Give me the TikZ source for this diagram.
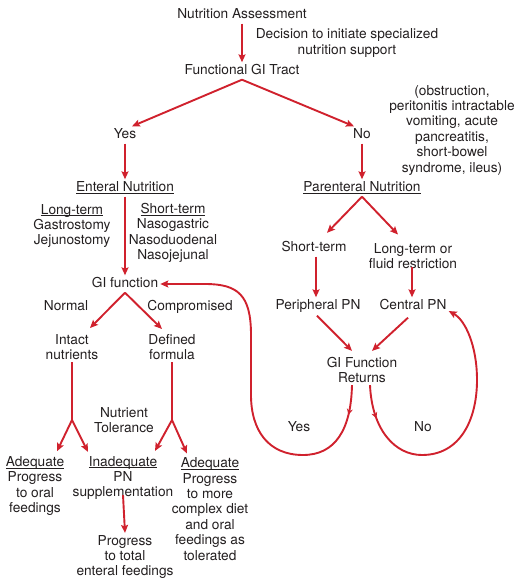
\documentclass[tikz,border=0pt]{standalone}
\usepackage{fontspec}
\setmainfont{TeX Gyre Heros}
\usetikzlibrary{arrows.meta,decorations.markings}
\definecolor{flowred}{RGB}{208,33,45}
\definecolor{ink}{RGB}{35,31,32}
% underline drawn as a thin rule that does not add to the line depth
\newcommand\ulword[1]{\setbox0=\hbox{#1}\rlap{\rule[-2pt]{\wd0}{0.7pt}}\box0}
\begin{document}
\begin{tikzpicture}[x=1pt,y=-1pt,
  lbl/.style={font=\fontsize{13.7}{15.4}\selectfont, text=ink, inner sep=2pt, align=center},
  one/.style={lbl, text height=10pt, text depth=3pt},
  link/.style={draw=flowred, line width=1.9pt, -{Stealth[length=8pt,width=7pt,inset=1.5pt]}},
  seg/.style={draw=flowred, line width=1.9pt},
  loopline/.style={draw=flowred, line width=1.9pt, -{Stealth[length=8pt,width=7pt,inset=1.5pt]},
    postaction={decorate, decoration={markings,
      mark=at position #1 with {\arrow{Stealth[length=6pt,width=6pt,inset=2pt,fill=flowred]}}}}},
]
\useasboundingbox (0,0) rectangle (517,579);

% ---- top of the chart
\node[one] (na)  at (242,15) {Nutrition Assessment};
\node[lbl] (dec) at (347,43) {Decision to initiate specialized\\nutrition support};
\node[one] (fgi) at (242,71) {Functional GI Tract};
\node[one] (yes1) at (125,135) {Yes};
\node[one] (no1)  at (362,135) {No};
\node[lbl] (obs) at (452,130) {(obstruction,\\peritonitis intractable\\vomiting, acute\\pancreatitis,\\short-bowel\\syndrome, ileus)};

% ---- enteral branch
\node[one] (en) at (125,188) {\ulword{Enteral Nutrition}};
\node[lbl] (lt) at (72,226) {\ulword{Long-term}\\Gastrostomy\\Jejunostomy};
\node[lbl] (st) at (173,233) {\ulword{Short-term}\\Nasogastric\\Nasoduodenal\\Nasojejunal};
\node[one] (gif) at (125,284) {GI function};
\node[one] (normal) at (66,307) {Normal};
\node[one] (comp) at (190,307) {Compromised};
\node[lbl] (intact) at (72,347) {Intact\\nutrients};
\node[lbl] (defined) at (172,347) {Defined\\formula};
\node[lbl] (tol) at (124,420) {Nutrient\\Tolerance};
\node[lbl] (adq1) at (35,486) {\ulword{Adequate}\\Progress\\to oral\\feedings};
\node[lbl] (inadq) at (123,478) {\ulword{Inadequate}\\PN\\supplementation};
\node[lbl] (prog) at (125,557) {Progress\\to total\\enteral feedings};
\node[lbl] (adq2) at (210,509) {\ulword{Adequate}\\Progress\\to more\\complex diet\\and oral\\feedings as\\tolerated};
\coordinate (s1) at (72,420);
\coordinate (s2) at (172,420);

% ---- parenteral branch
\node[one] (pn) at (362,188) {\ulword{Parenteral Nutrition}};
\node[one] (pst) at (314,248) {Short-term};
\node[lbl] (plt) at (413,256) {Long-term or\\fluid restriction};
\node[one] (ppn) at (318,306) {Peripheral PN};
\node[one] (cpn) at (413,306) {Central PN};
\node[lbl] (gifr) at (362,370) {GI Function\\Returns};
\node[one] (yes2) at (299,428) {Yes};
\node[one] (no2) at (423,428) {No};

% ---- connectors
\draw[link] (na) -- (fgi);
\draw[link] (fgi.south) -- ([xshift=7pt]yes1.north);
\draw[link] (fgi.south) -- ([xshift=-8pt]no1.north);
\draw[link] (yes1) -- (en);
\draw[link] (no1) -- (pn);

\draw[link] (en) -- (gif);
\draw[link] (gif.south) -- ([shift={(18,-4)}]intact.north);
\draw[link] (gif.south) -- ([shift={(-10,-3)}]defined.north);
\draw[seg] (intact.south) -- (s1);
\draw[seg] (defined.south) -- (s2);
\draw[link] (s1) -- ([shift={(22,-3)}]adq1.north);
\draw[link] (s1) -- ([shift={(-35,-2)}]inadq.north);
\draw[link] (s2) -- ([shift={(32,-3)}]inadq.north);
\draw[link] (s2) -- ([shift={(-23,-2)}]adq2.north);
\draw[link] ([yshift=7pt]inadq.south) -- (prog.north);

\draw[link] (pn.south) -- ([shift={(13,-6.5)}]pst.north);
\draw[link] (pn.south) -- ([shift={(-15,-6.5)}]plt.north);
\draw[link] ([xshift=2pt]pst.south) -- ([xshift=-2pt]ppn.north);
\draw[link] ([shift={(-1,-4)}]plt.south) -- ([xshift=-1pt]cpn.north);
\draw[link] ([shift={(-1,1)}]ppn.south) -- ([shift={(-10,-4)}]gifr.north);
\draw[link] ([shift={(-5,3)}]cpn.south) -- ([shift={(10,-4)}]gifr.north);

% return loops
\draw[loopline=30pt] ([xshift=-10pt]gifr.south)
  .. controls (351,430) and (335,455) .. (303,455)
  .. controls (268,455) and (251,430) .. (251,395)
  -- (251,335)
  .. controls (251,295) and (238,284) .. (205,284)
  -- (gif.east);
\draw[loopline=34pt] ([xshift=8pt]gifr.south)
  .. controls (372,430) and (395,455) .. (422,455)
  .. controls (460,455) and (477,420) .. (477,380)
  .. controls (477,345) and (465,320) .. ([yshift=-5pt]cpn.east);
\end{tikzpicture}
\end{document}
